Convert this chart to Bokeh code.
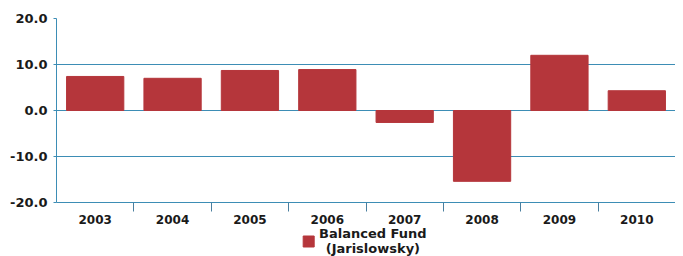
from bokeh.plotting import figure
from bokeh.models import FixedTicker, Range1d, ColumnDataSource
from bokeh.layouts import column
from bokeh.core.properties import value
from bokeh.embed import file_html
from bokeh.resources import INLINE

years = ["2003", "2004", "2005", "2006", "2007", "2008", "2009", "2010"]
returns = [7.4, 7.0, 8.7, 8.9, -2.6, -15.4, 12.0, 4.3]
y_ticks = [-20, -10, 0, 10, 20]
series_lines = ["Balanced Fund", "(Jarislowsky)"]

BLUE = "#3d8db5"
RED = "#b5363b"
FONT = "DejaVu Sans"

xs = [i + 0.5 for i in range(len(years))]
src = ColumnDataSource(dict(x=xs, top=returns))

p = figure(width=675, height=226, output_backend="svg", toolbar_location=None,
           x_range=Range1d(0, len(years)), y_range=Range1d(-20, 20),
           min_border_left=56, min_border_right=0, min_border_top=18, min_border_bottom=24)
p.outline_line_color = None
p.background_fill_color = "white"

r = p.vbar(x="x", top="top", bottom=0, width=0.74, source=src,
           fill_color=RED, line_color=RED)

p.xgrid.visible = False
p.ygrid.grid_line_color = BLUE
p.ygrid.grid_line_width = 1
p.ygrid.ticker = FixedTicker(ticks=y_ticks)

xt = FixedTicker(ticks=xs, minor_ticks=list(range(1, len(years))))
p.xaxis.ticker = xt
p.xaxis.major_label_overrides = {x: y for x, y in zip(xs, years)}
p.xaxis.major_tick_line_color = None
p.xaxis.major_tick_out = 0
p.xaxis.major_tick_in = 0
p.xaxis.minor_tick_line_color = "#4a7f9f"
p.xaxis.minor_tick_out = 9
p.xaxis.minor_tick_in = 0
p.xaxis.axis_line_color = BLUE
p.xaxis.major_label_text_font = FONT
p.xaxis.major_label_text_font_style = "bold"
p.xaxis.major_label_text_font_size = "12px"
p.xaxis.major_label_text_color = "#1a1a1a"
p.xaxis.major_label_standoff = 3

p.yaxis.ticker = FixedTicker(ticks=y_ticks)
p.yaxis.major_label_overrides = {v: f"{v:.1f}" for v in y_ticks}
p.yaxis.axis_line_color = BLUE
p.yaxis.major_tick_line_color = BLUE
p.yaxis.major_tick_out = 3
p.yaxis.major_tick_in = 0
p.yaxis.minor_tick_line_color = None
p.yaxis.major_label_text_font = FONT
p.yaxis.major_label_text_font_style = "bold"
p.yaxis.major_label_text_font_size = "13px"
p.yaxis.major_label_text_color = "#1a1a1a"
p.yaxis.major_label_standoff = 6

# legend strip below the chart (pixel-like coordinates)
lg = figure(width=675, height=30, output_backend="svg", toolbar_location=None,
            x_range=Range1d(0, 675), y_range=Range1d(0, 30),
            x_axis_location=None, y_axis_location=None,
            min_border=0, min_border_left=0, min_border_right=0,
            min_border_top=0, min_border_bottom=0)
lg.grid.visible = False
lg.outline_line_color = None
lg.scatter(x=[275], y=[15], marker="square", size=11, fill_color=RED, line_color=RED)
lg.text(x=[345, 345], y=[23, 8], text=series_lines, text_align="center",
        text_baseline="middle", text_font=value(FONT), text_font_style="bold",
        text_font_size="13px", text_color="#1a1a1a")

layout = column(p, lg, spacing=0)
open("out.html", "w").write(file_html(layout, INLINE))
